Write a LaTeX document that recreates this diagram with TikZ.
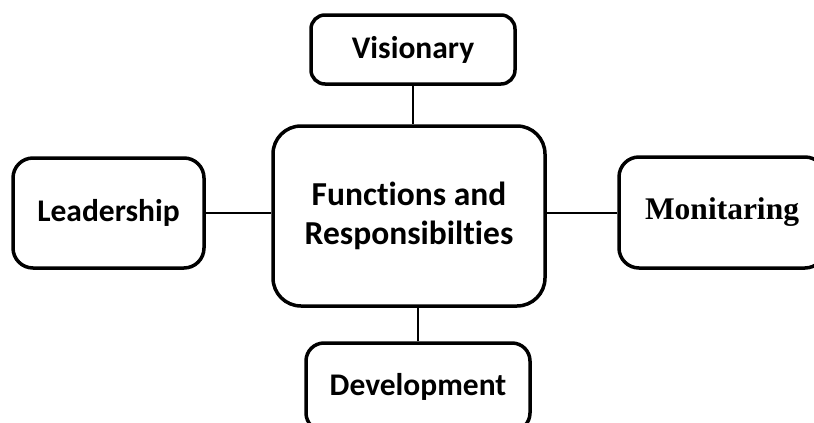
\documentclass[tikz,border=0pt]{standalone}
\usepackage{fontspec}
\setmainfont{Carlito}[Ligatures=NoCommon]
\newfontfamily\timesfont{Liberation Serif}
\begin{document}
\begin{tikzpicture}[x=1pt,y=-1pt,
  box/.style={draw=black, line width=3.5pt, inner sep=0pt, align=center,
    font=\fontsize{31.5}{38}\selectfont\bfseries},
  conn/.style={draw=black, line width=2pt}]
\useasboundingbox (0,0) rectangle (814,423);
\node[box, rounded corners=28pt, minimum width=272pt, minimum height=180pt, font=\fontsize{33.5}{39}\selectfont\bfseries] (main) at (409,216) {Functions and\\Responsibilties};
\node[box, rounded corners=14pt, minimum width=204pt, minimum height=69pt] (vis) at (413,49.5) {Visionary};
\node[box, rounded corners=20pt, minimum width=191pt, minimum height=110pt] (lead) at (108.5,213) {Leadership};
\node[box, rounded corners=20pt, minimum width=206pt, minimum height=111pt, font=\fontsize{31.5}{37}\selectfont\timesfont\bfseries] (mon) at (722,212.5) {Monitaring};
\node[box, rounded corners=18pt, minimum width=224pt, minimum height=88pt] (dev) at (418,387) {Development};
\draw[conn] (vis.south) -- (vis.south |- main.north);
\draw[conn] (lead.east) -- (lead.east -| main.west);
\draw[conn] (mon.west) -- (mon.west -| main.east);
\draw[conn] (dev.north) -- (dev.north |- main.south);
\end{tikzpicture}
\end{document}
